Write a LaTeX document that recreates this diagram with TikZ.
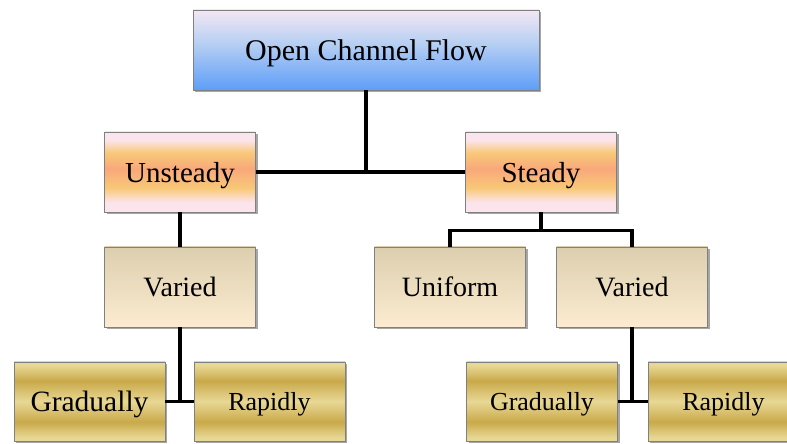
\documentclass[tikz,border=0pt]{standalone}
\usepackage{fontspec}
\setmainfont{Liberation Serif}
\usepackage{tikz}
\usetikzlibrary{calc,shadows}
\definecolor{FlowEdge}{HTML}{808080}
\definecolor{FlowBlueTop}{HTML}{F3E7F4}
\definecolor{FlowBlueMid}{HTML}{B9D0F3}
\definecolor{FlowBlueBot}{HTML}{5E9EF8}
\definecolor{FlowPink}{HTML}{FCE4EC}
\definecolor{FlowYellow}{HTML}{F8C878}
\definecolor{FlowSalmon}{HTML}{F9A87A}
\definecolor{FlowBeigeTop}{HTML}{DCCFAF}
\definecolor{FlowBeigeBot}{HTML}{FCEBD0}
\definecolor{FlowGoldLight}{HTML}{E8D895}
\definecolor{FlowGoldDark}{HTML}{C9A94A}
% shadings: node bottom sits at 25bp, node top at 75bp
\pgfdeclareverticalshading{flowblue}{100bp}{color(0bp)=(FlowBlueBot); color(25bp)=(FlowBlueBot); color(55bp)=(FlowBlueMid); color(75bp)=(FlowBlueTop); color(100bp)=(FlowBlueTop)}
\pgfdeclareverticalshading{flowpeach}{100bp}{color(0bp)=(FlowPink); color(31bp)=(FlowPink); color(40bp)=(FlowYellow); color(52bp)=(FlowSalmon); color(62bp)=(FlowYellow); color(70bp)=(FlowPink); color(100bp)=(FlowPink)}
\pgfdeclareverticalshading{flowbeige}{100bp}{color(0bp)=(FlowBeigeBot); color(25bp)=(FlowBeigeBot); color(75bp)=(FlowBeigeTop); color(100bp)=(FlowBeigeTop)}
\pgfdeclareverticalshading{flowgold}{100bp}{color(0bp)=(FlowGoldLight); color(27bp)=(FlowGoldLight); color(37bp)=(FlowGoldDark); color(50bp)=(FlowGoldLight); color(63bp)=(FlowGoldDark); color(73bp)=(FlowGoldLight); color(100bp)=(FlowGoldLight)}
\tikzset{
  flowbox/.style={draw=FlowEdge,line width=0.8pt,minimum width=151pt,minimum height=80pt,inner sep=0pt,text depth=-2pt,
    drop shadow={shadow xshift=2pt,shadow yshift=-2pt,opacity=0.35,fill=black}},
  rootbox/.style={flowbox,shading=flowblue,minimum width=346pt,font=\fontsize{30}{36}\selectfont},
  kindbox/.style={flowbox,shading=flowpeach,font=\fontsize{29}{35}\selectfont},
  typebox/.style={flowbox,shading=flowbeige,font=\fontsize{28}{34}\selectfont},
  ratebox/.style={flowbox,shading=flowgold,minimum height=79pt,font=\fontsize{26}{32}\selectfont},
  tree/.style={line width=3.4pt,black}
}
\begin{document}
\begin{tikzpicture}[x=1pt,y=1pt]
      \useasboundingbox (0,0) rectangle (787,444);
      \node[rootbox] (ocf) at (366,394) {Open Channel Flow};
      \node[kindbox] (unst) at (180,272) {Unsteady};
      \node[kindbox] (stdy) at (541,272) {Steady};
      \node[typebox] (varu) at (180,157) {Varied};
      \node[typebox] (unif) at (450,157) {Uniform};
      \node[typebox] (vars) at (632,157) {Varied};
      \node[ratebox,font=\fontsize{29.5}{35}\selectfont] (gradu) at (89.5,42.5) {Gradually};
      \node[ratebox] (rapu) at (269.5,42.5) {Rapidly};
      \node[ratebox] (grads) at (542,42.5) {Gradually};
      \node[ratebox] (raps) at (723.5,42.5) {Rapidly};
      \coordinate (split) at ($(stdy.south)+(0,-18)$);
      \draw[tree] (ocf.south) -- (ocf.south |- unst.east);
      \draw[tree] (unst.east) -- (stdy.west);
      \draw[tree] (unst.south) -- (varu.north);
      \draw[tree] (stdy.south) -- (split);
      \draw[tree] (unif.north) |- (split) -| (vars.north);
      \draw[tree] (varu.south) -- (varu.south |- gradu.east);
      \draw[tree] (gradu.east) -- (rapu.west);
      \draw[tree] (vars.south) -- (vars.south |- grads.east);
      \draw[tree] (grads.east) -- (raps.west);
    \end{tikzpicture}
\end{document}
